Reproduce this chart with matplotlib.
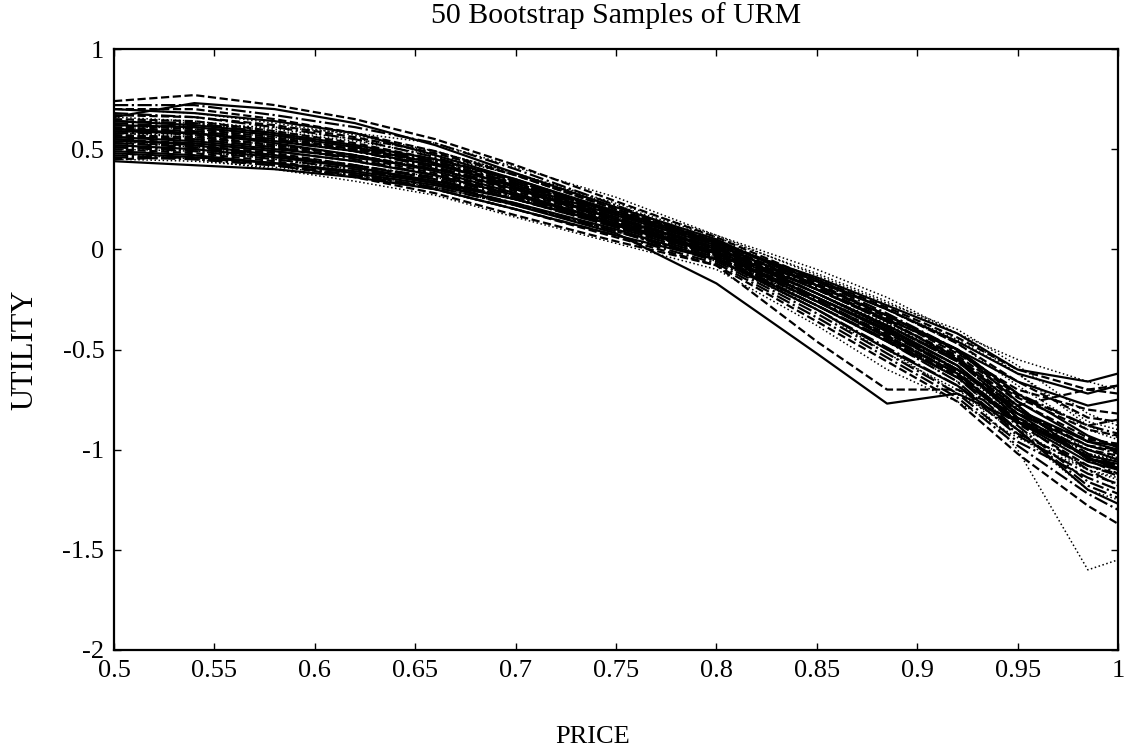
#! /usr/bin/env python

# 50 bootstrap samples of the utility function over price

import matplotlib
matplotlib.use("Agg")
import matplotlib.pyplot as plt

# price grid where the sampled curves have their knots
price = [0.50, 0.54, 0.58, 0.62, 0.66, 0.70, 0.75, 0.80, 0.85, 0.885, 0.92, 0.95, 0.985, 1.00]

# utility for each bootstrap sample
utility = [
    [0.66, 0.73, 0.70, 0.63, 0.52, 0.38, 0.21, 0.05, -0.18, -0.33, -0.50, -0.72, -0.93, -0.99],
    [0.74, 0.77, 0.72, 0.65, 0.55, 0.42, 0.24, 0.06, -0.15, -0.29, -0.44, -0.60, -0.70, -0.68],
    [0.60, 0.62, 0.61, 0.58, 0.53, 0.41, 0.26, 0.07, -0.10, -0.24, -0.42, -0.55, -0.66, -0.70],
    [0.72, 0.72, 0.67, 0.61, 0.53, 0.40, 0.22, 0.03, -0.20, -0.36, -0.54, -0.78, -1.05, -1.12],
    [0.55, 0.52, 0.47, 0.41, 0.33, 0.22, 0.08, -0.17, -0.52, -0.77, -0.72, -0.86, -1.00, -1.05],
    [0.50, 0.48, 0.44, 0.38, 0.30, 0.20, 0.06, -0.08, -0.46, -0.70, -0.70, -0.82, -0.95, -0.97],
    [0.62, 0.60, 0.56, 0.50, 0.43, 0.32, 0.15, -0.02, -0.28, -0.46, -0.66, -1.00, -1.60, -1.55],
    [0.58, 0.58, 0.54, 0.49, 0.41, 0.31, 0.16, 0.01, -0.24, -0.41, -0.61, -0.86, -1.10, -1.18],
    [0.70, 0.68, 0.64, 0.58, 0.47, 0.35, 0.18, 0.03, -0.14, -0.28, -0.42, -0.60, -0.66, -0.62],
    [0.45, 0.46, 0.42, 0.36, 0.28, 0.17, 0.04, -0.08, -0.36, -0.56, -0.76, -1.02, -1.28, -1.37],
    [0.52, 0.50, 0.45, 0.39, 0.31, 0.22, 0.10, -0.06, -0.30, -0.52, -0.70, -0.92, -1.20, -1.25],
    [0.64, 0.63, 0.58, 0.52, 0.44, 0.33, 0.17, 0.02, -0.22, -0.38, -0.56, -0.80, -1.02, -1.08],
    [0.44, 0.42, 0.40, 0.36, 0.30, 0.20, 0.07, -0.05, -0.30, -0.50, -0.68, -0.90, -1.20, -1.27],
    [0.60, 0.57, 0.52, 0.47, 0.40, 0.29, 0.14, -0.01, -0.24, -0.40, -0.58, -0.84, -1.00, -1.03],
    [0.48, 0.45, 0.40, 0.34, 0.27, 0.16, 0.03, -0.10, -0.38, -0.60, -0.76, -0.94, -1.10, -1.14],
    [0.68, 0.66, 0.61, 0.55, 0.46, 0.34, 0.18, 0.04, -0.16, -0.32, -0.50, -0.72, -0.88, -0.92],
    [0.56, 0.54, 0.50, 0.46, 0.40, 0.30, 0.15, 0.00, -0.20, -0.35, -0.50, -0.66, -0.78, -0.75],
    [0.53, 0.52, 0.48, 0.42, 0.35, 0.25, 0.11, -0.04, -0.28, -0.45, -0.63, -0.87, -1.08, -1.12],
    [0.66, 0.64, 0.60, 0.55, 0.49, 0.38, 0.23, 0.07, -0.13, -0.27, -0.40, -0.58, -0.82, -0.88],
    [0.47, 0.45, 0.42, 0.37, 0.30, 0.20, 0.07, -0.07, -0.34, -0.54, -0.74, -0.98, -1.22, -1.30],
    [0.62, 0.61, 0.57, 0.51, 0.43, 0.31, 0.15, 0.01, -0.22, -0.39, -0.58, -0.84, -1.04, -1.09],
    [0.57, 0.55, 0.51, 0.46, 0.38, 0.28, 0.13, -0.02, -0.26, -0.42, -0.60, -0.78, -0.70, -0.72],
    [0.54, 0.51, 0.47, 0.42, 0.36, 0.27, 0.12, -0.03, -0.30, -0.50, -0.72, -0.90, -1.02, -1.06],
    [0.60, 0.59, 0.55, 0.49, 0.41, 0.30, 0.14, -0.01, -0.25, -0.43, -0.62, -0.88, -1.16, -1.22],
    [0.49, 0.47, 0.43, 0.38, 0.32, 0.23, 0.10, -0.05, -0.28, -0.46, -0.64, -0.86, -1.03, -1.06],
    [0.65, 0.64, 0.59, 0.53, 0.45, 0.34, 0.18, 0.02, -0.20, -0.36, -0.53, -0.74, -0.90, -0.93],
    [0.58, 0.56, 0.52, 0.47, 0.40, 0.31, 0.16, 0.00, -0.22, -0.37, -0.55, -0.79, -1.00, -1.04],
    [0.51, 0.49, 0.45, 0.40, 0.33, 0.23, 0.09, -0.05, -0.30, -0.49, -0.68, -0.93, -1.12, -1.17],
    [0.59, 0.58, 0.54, 0.49, 0.42, 0.32, 0.17, 0.02, -0.18, -0.33, -0.50, -0.76, -0.96, -0.98],
    [0.70, 0.70, 0.65, 0.58, 0.49, 0.37, 0.20, 0.04, -0.17, -0.33, -0.51, -0.73, -0.88, -0.85],
    [0.45, 0.44, 0.41, 0.37, 0.31, 0.22, 0.09, -0.04, -0.26, -0.44, -0.64, -0.90, -1.10, -1.15],
    [0.63, 0.61, 0.57, 0.51, 0.44, 0.33, 0.18, 0.03, -0.19, -0.35, -0.55, -0.82, -0.98, -1.00],
    [0.52, 0.50, 0.46, 0.41, 0.34, 0.25, 0.12, -0.02, -0.24, -0.40, -0.58, -0.82, -1.04, -1.10],
    [0.61, 0.59, 0.55, 0.50, 0.43, 0.33, 0.18, 0.03, -0.18, -0.34, -0.52, -0.70, -0.80, -0.82],
    [0.50, 0.49, 0.45, 0.40, 0.34, 0.26, 0.14, 0.00, -0.22, -0.40, -0.60, -0.84, -1.02, -1.05],
    [0.56, 0.55, 0.51, 0.45, 0.37, 0.27, 0.12, -0.03, -0.28, -0.46, -0.66, -0.92, -1.08, -1.13],
    [0.48, 0.46, 0.43, 0.39, 0.33, 0.25, 0.12, -0.02, -0.24, -0.41, -0.60, -0.80, -0.96, -1.00],
    [0.67, 0.66, 0.62, 0.56, 0.48, 0.37, 0.20, 0.04, -0.15, -0.30, -0.47, -0.66, -0.84, -0.86],
    [0.58, 0.57, 0.54, 0.50, 0.44, 0.35, 0.19, 0.03, -0.16, -0.30, -0.47, -0.68, -0.90, -0.95],
    [0.53, 0.51, 0.47, 0.42, 0.35, 0.25, 0.11, -0.04, -0.28, -0.45, -0.64, -0.90, -1.18, -1.24],
    [0.64, 0.62, 0.58, 0.52, 0.45, 0.35, 0.19, 0.04, -0.16, -0.30, -0.46, -0.62, -0.72, -0.68],
    [0.55, 0.53, 0.49, 0.44, 0.37, 0.27, 0.12, -0.03, -0.26, -0.43, -0.62, -0.85, -1.04, -1.08],
    [0.70, 0.68, 0.63, 0.57, 0.49, 0.38, 0.22, 0.06, -0.12, -0.26, -0.42, -0.62, -0.86, -0.90],
    [0.46, 0.45, 0.42, 0.37, 0.31, 0.22, 0.09, -0.06, -0.32, -0.52, -0.72, -0.96, -1.14, -1.20],
    [0.60, 0.58, 0.53, 0.47, 0.39, 0.28, 0.13, -0.02, -0.26, -0.44, -0.62, -0.86, -1.06, -1.10],
    [0.57, 0.56, 0.52, 0.47, 0.40, 0.30, 0.15, 0.00, -0.22, -0.38, -0.56, -0.80, -0.98, -1.01],
    [0.64, 0.63, 0.59, 0.54, 0.47, 0.37, 0.21, 0.05, -0.16, -0.30, -0.45, -0.62, -0.88, -0.94],
    [0.51, 0.50, 0.47, 0.42, 0.36, 0.26, 0.12, -0.02, -0.24, -0.40, -0.60, -0.82, -0.98, -1.02],
    [0.54, 0.53, 0.49, 0.44, 0.37, 0.27, 0.13, -0.01, -0.22, -0.38, -0.55, -0.78, -1.05, -1.07],
    [0.62, 0.60, 0.56, 0.50, 0.43, 0.32, 0.16, 0.01, -0.20, -0.36, -0.54, -0.76, -0.94, -0.98],
]

xticks = [0.5, 0.55, 0.6, 0.65, 0.7, 0.75, 0.8, 0.85, 0.9, 0.95, 1]
xticklabels = ["0.5", "0.55", "0.6", "0.65", "0.7", "0.75", "0.8", "0.85", "0.9", "0.95", "1"]
yticks = [-2, -1.5, -1, -0.5, 0, 0.5, 1]
yticklabels = ["-2", "-1.5", "-1", "-0.5", "0", "0.5", "1"]

if __name__ == "__main__":
    plt.rcParams['font.family'] = ['Liberation Serif', 'DejaVu Serif']

    fig = plt.figure(figsize=(11.31, 7.53), dpi=100)
    ax = fig.add_axes([0.1008, 0.1368, 0.8877, 0.7981])

    # matlab-style line style cycle, all black
    styles = ['-', '--', ':', '-.']
    for i, u in enumerate(utility):
        ls = styles[i % 4]
        lw = 1.1 if ls == ':' else 1.6
        ax.plot(price, u, color='k', linestyle=ls, linewidth=lw)

    ax.set_xlim(0.5, 1)
    ax.set_ylim(-2, 1)
    ax.set_xticks(xticks)
    ax.set_xticklabels(xticklabels)
    ax.set_yticks(yticks)
    ax.set_yticklabels(yticklabels)
    ax.tick_params(direction='in', length=5, width=1, top=True, right=True,
                   labelsize=19, pad=7)
    for s in ax.spines.values():
        s.set_linewidth(1.6)

    fig.text(0.5446, 0.980, '50 Bootstrap Samples of URM', ha='center', va='center', fontsize=21.5)
    fig.text(0.524, 0.021, 'PRICE', ha='center', va='center', fontsize=19)
    fig.text(0.022, 0.535, 'UTILITY', ha='center', va='center', rotation=90, fontsize=22)

    fig.savefig('out.png', dpi=100)
